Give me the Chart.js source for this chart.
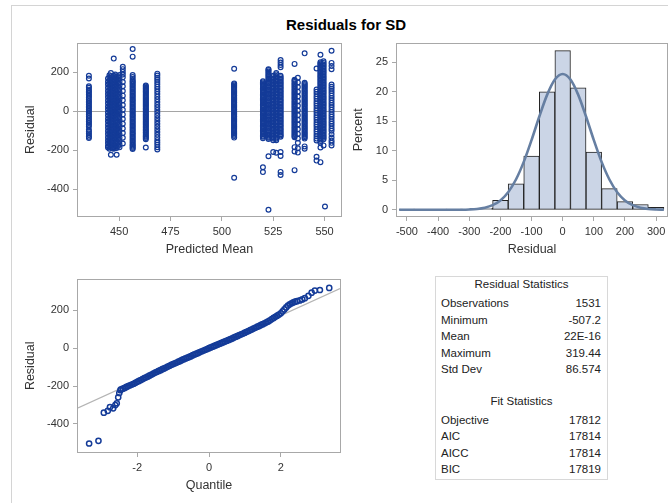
<!DOCTYPE html>
<html>
<head>
<meta charset="utf-8">
<script src="https://cdn.jsdelivr.net/npm/chart.js@4.4.0/dist/chart.umd.min.js"></script>
<style>
  html, body { margin: 0; padding: 0; background: #fff; width: 668px; height: 503px; overflow: hidden; position: relative;
    font-family: "Liberation Sans", Arial, sans-serif; }
  #frame { position: absolute; left: 11px; top: 5px; width: 720px; height: 560px; border: 1px solid #d4d4d4; }
  #title { position: absolute; left: 0; width: 692px; top: 16px; line-height: 18px; text-align: center;
    font-weight: bold; font-size: 15px; color: #000; }
  canvas { position: absolute; }
  #stats { position: absolute; left: 435px; top: 276px; width: 171px; height: 202px; border: 1px solid #d8d8d8; }
  .st { position: absolute; font-size: 11.5px; line-height: 14px; color: #222; white-space: nowrap; }
</style>
</head>
<body>
<div id="frame"></div>
<div id="title">Residuals for SD</div>
<canvas id="residPlot"></canvas>
<canvas id="histPlot"></canvas>
<canvas id="qqPlot"></canvas>
<div id="stats"></div>
<div id="statText"></div>

<script>
// --- data ---

// residual vs predicted mean: one x per column of points
const predMean = [435.3, 444.6, 445.3, 446.0, 446.7, 447.4, 448.1, 448.8, 449.5, 450.2, 451.8, 456.6, 463.0, 468.6,
  506.0, 520.0, 522.7, 525.0, 526.5, 528.6, 535.4, 537.0, 540.3, 546.1, 548.0, 549.5, 550.2, 553.4];
const residByPred = [
  [182, 168, 128, 120, 111, 103, 95, 86, 78, 70, 61, 52, 44, 35, 26, 18, 9, 0, -8, -17, -26, -34, -43, -52, -60, -69, -78, -95, -104, -113, -122, -130, -137],
  [168, 152, 137, 120, 104, 88, 73, 57, 41, 25, 10, -6, -22, -38, -53, -69, -85, -101, -117, -133, -148, -163, -178, -186],
  [185, 172, 156, 140, 124, 108, 92, 76, 60, 44, 28, 12, -4, -20, -36, -52, -68, -84, -100, -116, -132, -148, -164, -180, -192],
  [196, 180, 164, 148, 132, 116, 100, 84, 68, 52, 36, 20, 4, -12, -28, -44, -60, -76, -92, -108, -124, -140, -156, -172, -186, -223],
  [176, 160, 144, 128, 112, 96, 80, 64, 48, 32, 16, 0, -16, -32, -48, -64, -80, -96, -112, -128, -144, -160, -176, -190],
  [270, 182, 166, 150, 134, 118, 102, 86, 70, 54, 38, 22, 6, -10, -26, -42, -58, -74, -90, -106, -122, -138, -154, -170, -184, -192],
  [188, 174, 158, 142, 126, 110, 94, 78, 62, 46, 30, 14, -2, -18, -34, -50, -66, -82, -98, -114, -130, -146, -162, -178, -188],
  [178, 162, 146, 130, 114, 98, 82, 66, 50, 34, 18, 2, -14, -30, -46, -62, -78, -94, -110, -126, -142, -158, -174, -188, -223],
  [180, 162, 144, 126, 108, 90, 72, 54, 36, 18, 0, -18, -36, -54, -72, -90, -108, -126, -144, -162, -178],
  [186, 170, 152, 134, 116, 98, 80, 62, 44, 26, 8, -10, -28, -46, -64, -82, -100, -118, -136, -154, -170, -185],
  [228, 216, 202, 188, 174, 150, 128, 104, 80, 56, 32, 8, -16, -40, -64, -88, -112, -136, -165],
  [319, 280, 186, 176, 166, 157, 152, 145, 138, 131, 124, 117, 110, 103, 96, 89, 82, 75, 68, 61, 54, 47, 40, 33, 26, 19, 12, 5,
    -2, -9, -16, -23, -30, -37, -44, -51, -58, -65, -72, -79, -86, -93, -100, -107, -114, -121, -128, -135, -142, -149,
    -156, -163, -170, -176, -182, -188, -194],
  [132, 127, 121, 115, 109, 103, 97, 91, 85, 78, 72, 66, 60, 54, 48, 41, 35, 29, 23, 16, 10, 4, -3, -9, -16, -22, -28, -34,
    -41, -47, -54, -60, -67, -73, -80, -86, -93, -99, -106, -112, -119, -125, -131, -137, -143, -186],
  [193, 183, 172, 161, 150, 138, 126, 114, 101, 88, 75, 62, 48, 34, 20, 6, -8, -22, -36, -50, -64, -78, -92, -106, -120, -134, -148, -160, -172, -184, -196],
  [218, 143, 138, 132, 126, 120, 114, 108, 102, 96, 90, 84, 78, 72, 66, 60, 54, 48, 42, 36, 30, 24, 18, 12, 6, 0,
    -6, -12, -18, -24, -30, -36, -42, -48, -54, -60, -66, -72, -78, -84, -90, -96, -102, -108, -114, -120, -127, -135, -341],
  [154, 148, 142, 136, 130, 123, 117, 110, 104, 98, 92, 85, 79, 72, 66, 60, 54, 47, 41, 34, 28, 22, 16, 9, 3, -4, -10, -16,
    -23, -29, -36, -42, -48, -54, -61, -67, -74, -80, -86, -92, -99, -105, -112, -118, -125, -131, -138, -287, -312],
  [216, 211, 204, 197, 190, 183, 176, 169, 162, 155, 148, 141, 134, 127, 120, 113, 106, 99, 92, 85, 78, 71, 64, 57, 50,
    43, 36, 29, 22, 15, 8, 1, -6, -13, -20, -27, -34, -41, -48, -55, -62, -69, -76, -83, -90, -97, -104, -111, -118,
    -124, -130, -136, -142, -231, -505],
  [182, 175, 167, 160, 152, 145, 137, 130, 122, 115, 107, 100, 92, 85, 77, 70, 62, 55, 47, 40, 32, 25, 17, 10, 2, -5,
    -13, -20, -28, -35, -43, -50, -58, -65, -73, -80, -88, -95, -103, -110, -118, -125, -133, -140, -148, -209],
  [196, 189, 181, 174, 166, 159, 151, 144, 136, 129, 121, 114, 106, 99, 91, 84, 76, 69, 61, 54, 46, 39, 31, 24, 16, 9,
    1, -6, -14, -21, -29, -36, -44, -51, -59, -66, -74, -81, -89, -96, -104, -111, -119, -126, -134, -141, -148, -213],
  [263, 250, 237, 226, 182, 175, 167, 160, 152, 145, 137, 130, 122, 115, 107, 100, 92, 85, 77, 70, 62, 55, 47, 40, 32,
    25, 17, 10, 2, -5, -13, -20, -28, -35, -43, -50, -58, -65, -73, -80, -88, -95, -103, -110, -118, -124, -130,
    -209, -229, -311, -327],
  [243, 162, 156, 150, 143, 137, 130, 124, 117, 111, 104, 98, 91, 85, 78, 72, 65, 59, 52, 46, 39, 33, 26, 20, 13, 7, 0,
    -6, -13, -19, -26, -32, -39, -45, -52, -58, -65, -71, -78, -84, -91, -97, -104, -110, -116, -122, -128, -133,
    -184, -206, -302],
  [172, 148, 124, 100, 76, 52, 28, 4, -20, -44, -68, -92, -116, -140, -162, -190, -212],
  [297, 146, 140, 133, 127, 120, 114, 107, 101, 94, 88, 81, 75, 68, 62, 55, 49, 42, 36, 29, 23, 16, 10, 3, -3, -10,
    -16, -23, -29, -36, -42, -49, -55, -62, -68, -75, -81, -88, -94, -101, -107, -114, -120, -127, -133, -140, -180, -192],
  [219, 112, 100, 88, 76, 64, 52, 40, 28, 16, 4, -8, -20, -32, -44, -56, -68, -80, -92, -104, -116, -128, -140, -150, -233, -253],
  [290, 252, 246, 240, 233, 226, 219, 212, 205, 198, 191, 184, 177, 170, 163, 156, 149, 142, 135, 128, 121, 114, 107,
    100, 93, 86, 79, 72, 65, 58, 51, 44, 37, 30, 23, 16, 9, 2, -5, -12, -19, -26, -33, -40, -47, -54, -61, -68, -75,
    -82, -89, -96, -103, -110, -117, -124, -131, -138, -145, -152, -162, -186, -261],
  [256, 248, 240, 232, 224, 216, 208, 200, 192, 184, 176, 168, 160, 152, 144, 136, 128, 120, 112, 104, 96, 88, 80, 72,
    64, 56, 48, 40, 32, 24, 16, 8, 0, -8, -16, -24, -32, -40, -48, -56, -64, -72, -80, -88, -96, -104, -112, -120,
    -128, -136, -144, -175],
  [-488],
  [310, 248, 232, 216, 137, 126, 115, 104, 92, 80, 68, 56, 44, 32, 20, 8, -4, -16, -28, -40, -52, -64, -76, -88, -100, -118, -135, -150, -162, -175]
];
const predTicks = [450, 475, 500, 525, 550];
const residTicks = [-400, -200, 0, 200];

// histogram of residuals (bin centres, width 50) + normal curve
const histCenters = [-500, -450, -400, -350, -300, -250, -200, -150, -100, -50, 0, 50, 100, 150, 200, 250, 300];
const histPercent = [0.13, 0, 0, 0.13, 0.13, 0.26, 1.6, 4.4, 9.1, 20.0, 27.0, 20.7, 9.8, 3.6, 1.4, 0.9, 0.4];
const curveX = [-525, -500, -475, -450, -425, -400, -375, -350, -325, -300, -275, -250, -225, -200, -175, -150, -125,
  -100, -75, -50, -25, 0, 25, 50, 75, 100, 125, 150, 175, 200, 225, 250, 275, 300, 325];
const curveY = [0, 0, 0, 0, 0, 0, 0, 0.01, 0.02, 0.06, 0.15, 0.36, 0.79, 1.6, 2.99, 5.14, 8.13,
  11.83, 15.83, 19.5, 22.1, 23.04, 22.1, 19.5, 15.83, 11.83, 8.13, 5.14, 2.99, 1.6, 0.79, 0.36, 0.15, 0.06, 0.02];
const histXTicks = [-500, -400, -300, -200, -100, 0, 100, 200, 300];
const histYTicks = [0, 5, 10, 15, 20, 25];

// normal quantile plot
const qqQuantile = [-3.34, -3.08, -2.93, -2.82, -2.76, -2.67, -2.61, -2.57, -2.53, -2.50, -2.47,
  -2.45, -2.40, -2.35, -2.30, -2.25, -2.20, -2.15, -2.10, -2.05, -2.00, -1.95, -1.90, -1.85, -1.80, -1.75, -1.70,
  -1.65, -1.60, -1.55, -1.50, -1.45, -1.40, -1.35, -1.30, -1.25, -1.20, -1.15, -1.10, -1.05, -1.00, -0.95, -0.90,
  -0.85, -0.80, -0.75, -0.70, -0.65, -0.60, -0.55, -0.50, -0.45, -0.40, -0.35, -0.30, -0.25, -0.20, -0.15, -0.10,
  -0.05, 0.00, 0.05, 0.10, 0.15, 0.20, 0.25, 0.30, 0.35, 0.40, 0.45, 0.50, 0.55, 0.60, 0.65, 0.70, 0.75, 0.80,
  0.85, 0.90, 0.95, 1.00, 1.05, 1.10, 1.15, 1.20, 1.25, 1.30, 1.35, 1.40, 1.45, 1.50, 1.55, 1.60, 1.65, 1.70,
  1.75, 1.80, 1.85, 1.90, 1.95, 2.00, 2.05, 2.10, 2.15, 2.20, 2.25, 2.30, 2.35, 2.40,
  2.45, 2.53, 2.60, 2.67, 2.77, 2.86, 2.95, 3.09, 3.35];
const qqResidual = [-504, -490, -341, -331, -312, -318, -301, -291, -260, -237, -222,
  -218, -214, -210, -205, -200, -196, -192, -188, -183, -178, -173, -168, -163, -158, -154, -149,
  -144, -139, -134, -129, -125, -120, -116, -111, -107, -102, -97, -93, -88, -84, -80, -76,
  -71, -67, -62, -58, -54, -50, -46, -42, -37, -33, -29, -25, -20, -16, -12, -8,
  -4, 0, 4, 8, 12, 16, 20, 24, 28, 32, 36, 40, 44, 48, 52, 57, 61, 65,
  70, 74, 78, 82, 87, 91, 96, 100, 105, 109, 114, 118, 123, 127, 132, 137, 142, 148,
  154, 160, 166, 172, 178, 185, 195, 205, 216, 226, 232, 238, 242, 246,
  249, 253, 258, 265, 277, 294, 305, 308, 319];
const qqLineQ = [-3.65, 3.65];
const qqLineR = [-316, 316];
const qqXTicks = [-2, 0, 2];
const qqYTicks = [-400, -200, 0, 200];

// statistics table
const resStatNames = ["Observations", "Minimum", "Mean", "Maximum", "Std Dev"];
const resStatValues = ["1531", "-507.2", "22E-16", "319.44", "86.574"];
const fitStatNames = ["Objective", "AIC", "AICC", "BIC"];
const fitStatValues = ["17812", "17814", "17814", "17819"];

// --- styling ---
const BLUE = "#143b98";
const FRAME = "#a8a8a8";
Chart.defaults.font.family = '"Liberation Sans", Arial, sans-serif';
Chart.defaults.color = "#333";
Chart.defaults.animation = false;

// plot frame + optional zero line
Chart.register({
  id: "frame",
  beforeDatasetsDraw(chart, args, opts) {
    if (!opts.zeroLine) return;
    const { ctx, chartArea: a, scales } = chart;
    const y = Math.round(scales.y.getPixelForValue(0)) + 0.5;
    ctx.save();
    ctx.strokeStyle = "#a5a5a5";
    ctx.lineWidth = 1;
    ctx.beginPath(); ctx.moveTo(a.left, y); ctx.lineTo(a.right, y); ctx.stroke();
    ctx.restore();
  },
  afterDatasetsDraw(chart) {
    const { ctx, chartArea: a } = chart;
    ctx.save();
    ctx.strokeStyle = FRAME;
    ctx.lineWidth = 1;
    ctx.strokeRect(Math.round(a.left) - 0.5, Math.round(a.top) - 0.5, Math.round(a.right - a.left) + 1, Math.round(a.bottom - a.top) + 1);
    ctx.restore();
  }
});

function axis(title, min, max, tickVals) {
  return {
    type: "linear", min, max, offset: false,
    afterBuildTicks: s => { s.ticks = tickVals.map(v => ({ value: v })); },
    grid: { display: true, offset: false, drawOnChartArea: false, drawTicks: true, tickLength: 5, tickColor: FRAME },
    border: { display: false },
    ticks: { font: { size: 11 }, color: "#333", padding: 4, maxRotation: 0, autoSkip: false },
    title: { display: true, text: title, color: "#333", padding: 0, font: { size: 12.5, lineHeight: "14px" } }
  };
}

// box: frame l,t,r,b plus centres of the y title (x) and x title (y)
function makePanel(id, box, type, datasets, xAxis, yAxis, extra) {
  const cv = document.getElementById(id);
  const left = box.yTitleX - 7, top = box.t - 8;
  const w = box.r + 8 - left, h = box.xTitleY + 7 - top;
  Object.assign(cv.style, { left: left + "px", top: top + "px", width: w + "px", height: h + "px" });
  cv.width = w; cv.height = h;
  xAxis.afterFit = s => { s.height = box.xTitleY + 7 - box.b; };
  yAxis.afterFit = s => { s.width = box.l - left; };
  return new Chart(cv, {
    type,
    data: { datasets },
    options: {
      responsive: false,
      layout: { padding: { top: 8, right: 8, left: 0, bottom: 0 } },
      plugins: { legend: { display: false }, tooltip: { enabled: false }, frame: extra || {} },
      scales: { x: xAxis, y: yAxis }
    }
  });
}

const markerStyle = {
  pointRadius: 2.4, pointBorderWidth: 1.2, pointBorderColor: BLUE,
  pointBackgroundColor: "rgba(0,0,0,0)", showLine: false
};

// Residual vs predicted mean
const residPoints = [];
predMean.forEach((x, i) => residByPred[i].forEach(y => residPoints.push({ x, y })));
makePanel("residPlot", { l: 78, t: 41, r: 341, b: 216, yTitleX: 31, xTitleY: 250 }, "scatter",
  [Object.assign({ data: residPoints }, markerStyle)],
  axis("Predicted Mean", 430, 558, predTicks),
  axis("Residual", -537, 347, residTicks),
  { zeroLine: true });

// Histogram with normal density
makePanel("histPlot", { l: 397, t: 41, r: 667, b: 216, yTitleX: 359, xTitleY: 250 }, "bar",
  [
    { type: "line", order: 0, data: curveX.map((x, i) => ({ x, y: curveY[i] })),
      borderColor: "#667fa2", borderWidth: 2.6, pointRadius: 0, cubicInterpolationMode: "monotone", fill: false },
    { type: "bar", order: 1, data: histCenters.map((x, i) => ({ x, y: histPercent[i] })),
      backgroundColor: "#cbd5e6", borderColor: "#222", borderWidth: 1, borderSkipped: false,
      barPercentage: 1, categoryPercentage: 1, grouped: false }
  ],
  axis("Residual", -532, 335, histXTicks),
  axis("Percent", -1.05, 28.2, histYTicks));

// Q-Q plot
makePanel("qqPlot", { l: 78, t: 277, r: 340, b: 452, yTitleX: 31, xTitleY: 486 }, "scatter",
  [
    { type: "line", order: 2, data: qqLineQ.map((x, i) => ({ x, y: qqLineR[i] })),
      borderColor: "#b4b4b4", borderWidth: 1.2, pointRadius: 0, fill: false },
    Object.assign({ order: 1, data: qqQuantile.map((x, i) => ({ x, y: qqResidual[i] })) }, markerStyle,
      { pointRadius: 2.6, pointBorderWidth: 1.5 })
  ],
  axis("Quantile", -3.65, 3.65, qqXTicks),
  axis("Residual", -549, 363, qqYTicks));

// statistics text
const statBox = document.getElementById("statText");
function addText(text, left, top, opts) {
  const d = document.createElement("div");
  d.className = "st";
  d.textContent = text;
  d.style.left = left + "px";
  d.style.top = top + "px";
  if (opts) Object.assign(d.style, opts);
  statBox.appendChild(d);
}
function addRows(names, values, firstCenter) {
  names.forEach((n, i) => {
    const top = firstCenter + i * 16.55 - 7;
    addText(n, 441, top);
    addText(values[i], 440, top, { width: "161px", textAlign: "right" });
  });
}
addText("Residual Statistics", 436, 277, { width: "171px", textAlign: "center" });
addRows(resStatNames, resStatValues, 303);
addText("Fit Statistics", 436, 394, { width: "171px", textAlign: "center" });
addRows(fitStatNames, fitStatValues, 419.7);
</script>
</body>
</html>
